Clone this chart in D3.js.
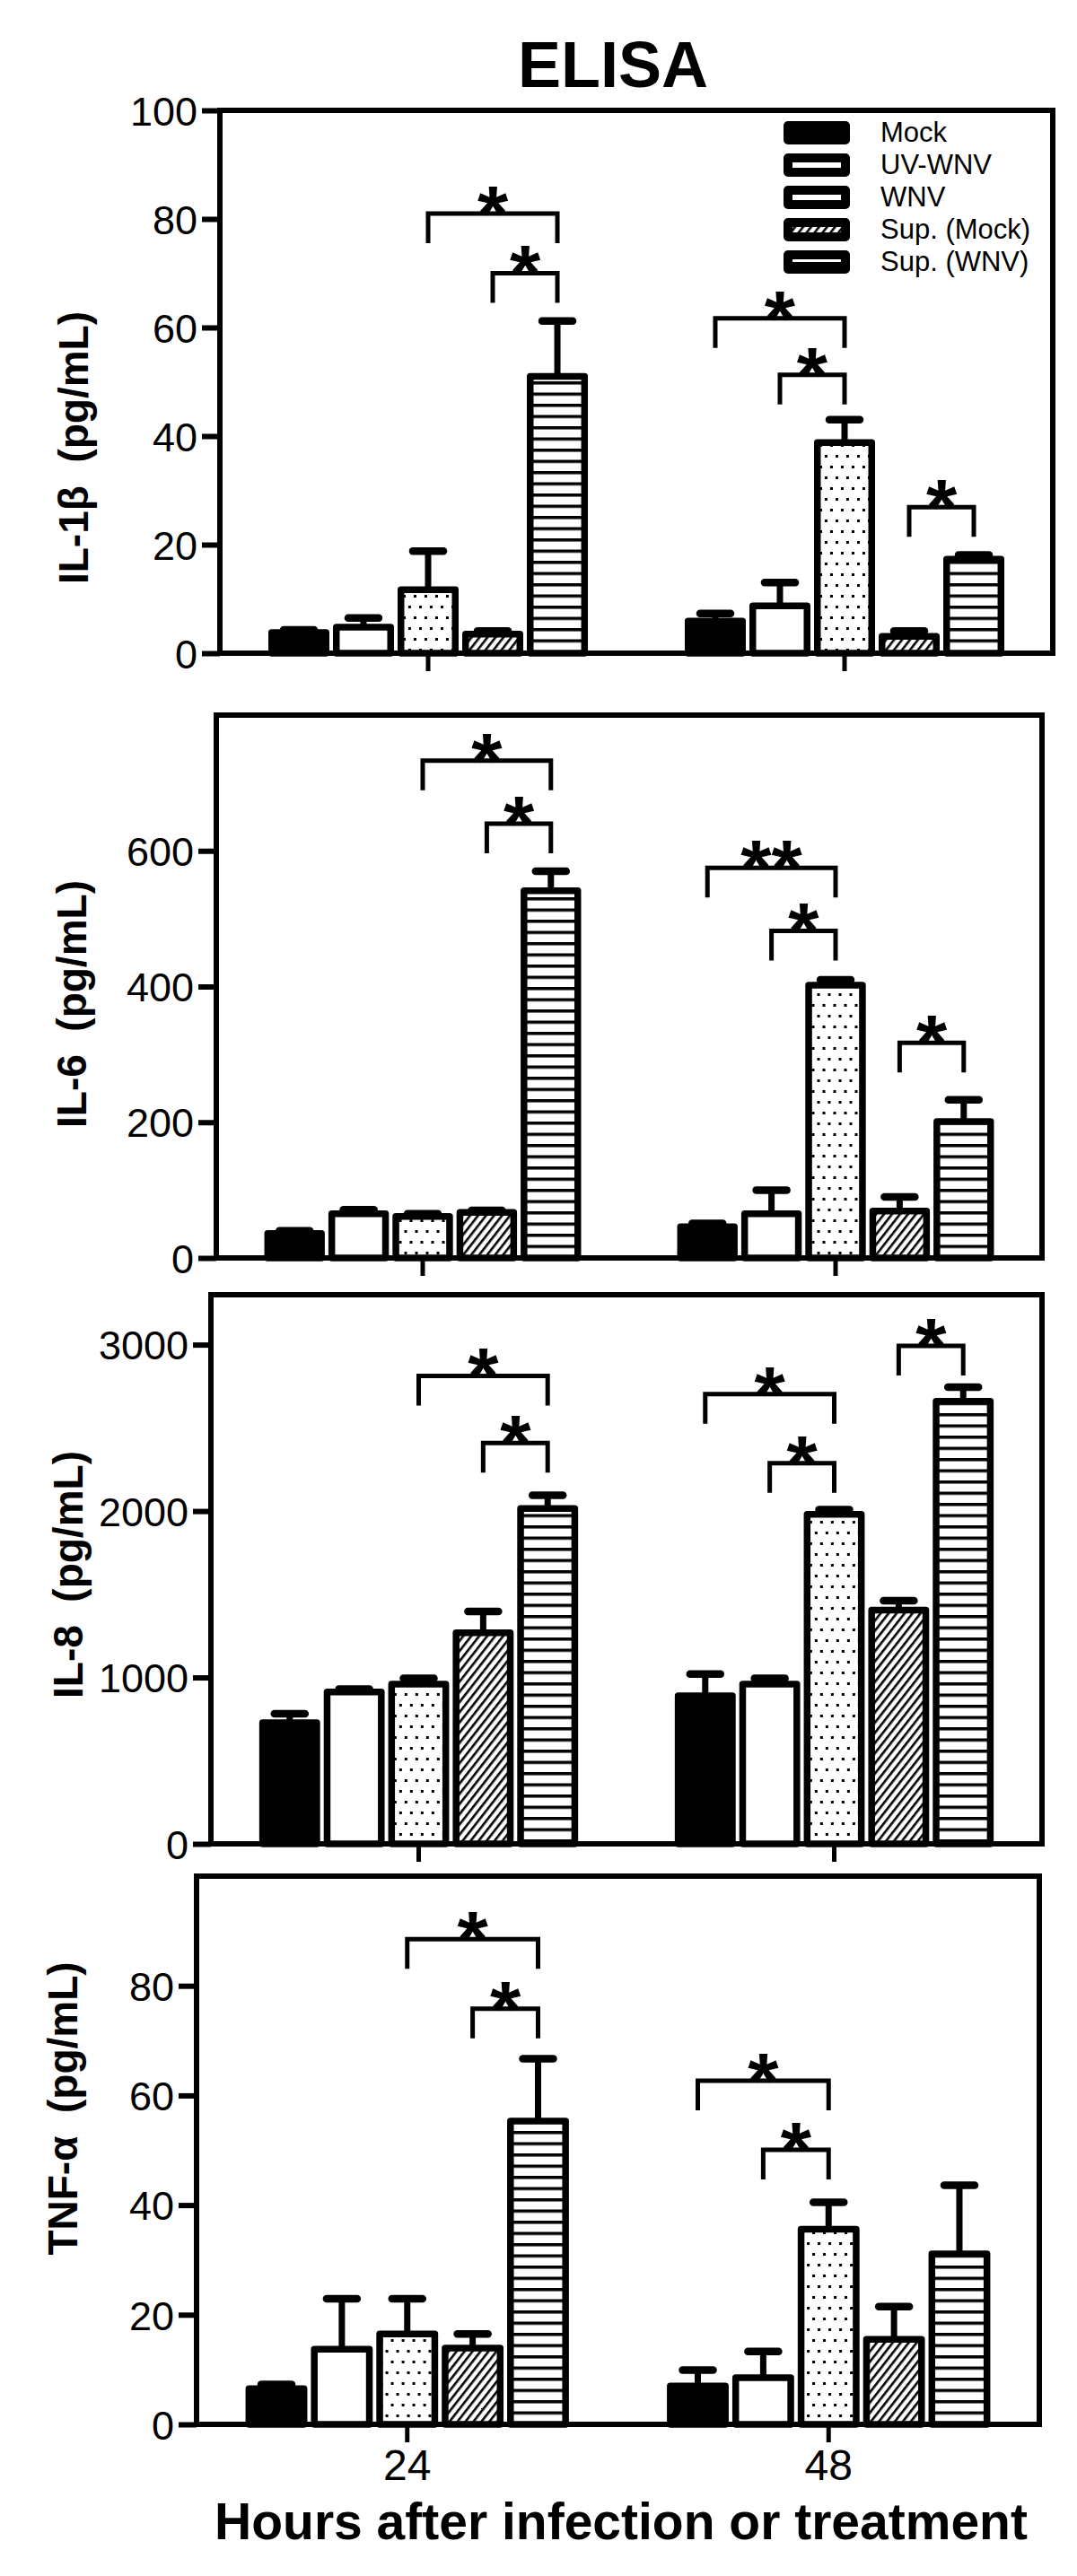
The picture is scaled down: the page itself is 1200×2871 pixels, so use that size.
<!DOCTYPE html>
<html>
<head>
<meta charset="utf-8">
<script src="https://cdn.jsdelivr.net/npm/d3@7"></script>
<style>
  body { margin: 0; background: #fff; }
  svg { display: block; }
</style>
</head>
<body>
<div id="chart"></div>
<script>
const width = 1200;
const height = 2871;

// ---- data ----
const groups = ['24', '48'];
const series = ['Mock', 'UV-WNV', 'WNV', 'Sup. (Mock)', 'Sup. (WNV)'];

// mean per group [24 h, 48 h], series order as above
const il1bMean = [[3.8, 4.8, 11.7, 3.5, 51.0], [5.9, 8.7, 38.8, 3.1, 17.3]];
const il1bErr  = [[0.5, 1.7, 7.1, 0.6, 10.2], [1.4, 4.3, 4.2, 1.0, 0.8]];
const il6Mean  = [[36, 65, 61, 67, 541], [46, 65, 402, 69, 201]];
const il6Err   = [[4, 6, 4, 3, 29], [5, 35, 8, 21, 32]];
const il8Mean  = [[728, 912, 960, 1268, 2015], [890, 960, 1980, 1405, 2660]];
const il8Err   = [[54, 18, 35, 129, 80], [131, 35, 28, 56, 84]];
const tnfMean  = [[6.5, 13.7, 16.5, 13.9, 55.3], [7.0, 8.5, 35.6, 15.5, 31.1]];
const tnfErr   = [[0.8, 9.2, 6.4, 2.6, 11.4], [2.9, 4.8, 4.9, 6.0, 12.5]];

// significance brackets: [group index, from series, to series, height (data units), label]
const il1bSig = [[0, 2, 4, 81, '*'], [0, 3, 4, 70, '*'], [1, 0, 2, 61.7, '*'], [1, 1, 2, 51.3, '*'], [1, 3, 4, 26.9, '*']];
const il6Sig  = [[0, 2, 4, 733, '*'], [0, 3, 4, 640, '*'], [1, 0, 2, 575, '**'], [1, 1, 2, 482, '*'], [1, 3, 4, 317, '*']];
const il8Sig  = [[0, 2, 4, 2812, '*'], [0, 3, 4, 2409, '*'], [1, 0, 2, 2703, '*'], [1, 1, 2, 2288, '*'], [1, 3, 4, 2992, '*']];
const tnfSig  = [[0, 2, 4, 88.5, '*'], [0, 3, 4, 75.8, '*'], [1, 0, 2, 62.7, '*'], [1, 1, 2, 50.1, '*']];

const il1bTicks = [0, 20, 40, 60, 80, 100];
const il6Ticks  = [0, 200, 400, 600];
const il8Ticks  = [0, 1000, 2000, 3000];
const tnfTicks  = [0, 20, 40, 60, 80];

// ---- layout ----
const arial = "'Liberation Sans',Arial,sans-serif";

const panels = [
  { label: 'IL-1\u03b2\u00a0\u00a0(pg/mL)', mean: il1bMean, err: il1bErr, sig: il1bSig, yMax: 100, ticks: il1bTicks,
    box: { left: 245, right: 1173, top: 123, bottom: 728 }, labelPos: [98, 499] },
  { label: 'IL-6\u00a0\u00a0(pg/mL)', mean: il6Mean, err: il6Err, sig: il6Sig, yMax: 800, ticks: il6Ticks,
    box: { left: 241, right: 1161, top: 797, bottom: 1402 }, labelPos: [96, 1119] },
  { label: 'IL-8\u00a0\u00a0(pg/mL)', mean: il8Mean, err: il8Err, sig: il8Sig, yMax: 3300, ticks: il8Ticks,
    box: { left: 235, right: 1161, top: 1443, bottom: 2055 }, labelPos: [92, 1755] },
  { label: 'TNF-\u03b1\u00a0\u00a0(pg/mL)', mean: tnfMean, err: tnfErr, sig: tnfSig, yMax: 100, ticks: tnfTicks,
    box: { left: 219, right: 1158, top: 2091, bottom: 2702 }, labelPos: [86, 2350] },
];

const barStroke = 7.5;
const fills = ['#000', '#fff', 'url(#dots)', 'url(#hatch)', 'url(#hlines)'];

const svg = d3.select('#chart')
  .append('svg')
  .attr('width', width)
  .attr('height', height)
  .attr('viewBox', `0 0 ${width} ${height}`);

svg.append('rect').attr('width', width).attr('height', height).attr('fill', '#fff');

// fill patterns
const defs = svg.append('defs');

const dots = defs.append('pattern').attr('id', 'dots')
  .attr('patternUnits', 'userSpaceOnUse').attr('width', 12).attr('height', 24);
dots.append('rect').attr('width', 12).attr('height', 24).attr('fill', '#fff');
dots.append('rect').attr('x', 2).attr('y', 3).attr('width', 3).attr('height', 3).attr('fill', '#000');
dots.append('rect').attr('x', 8).attr('y', 15).attr('width', 3).attr('height', 3).attr('fill', '#000');

const hatch = defs.append('pattern').attr('id', 'hatch')
  .attr('patternUnits', 'userSpaceOnUse').attr('width', 7).attr('height', 10)
  .attr('patternTransform', 'rotate(38)');
hatch.append('rect').attr('width', 7).attr('height', 10).attr('fill', '#fff');
hatch.append('rect').attr('width', 2.6).attr('height', 10).attr('fill', '#000');

const hlines = defs.append('pattern').attr('id', 'hlines')
  .attr('patternUnits', 'userSpaceOnUse').attr('width', 10).attr('height', 12.5);
hlines.append('rect').attr('width', 10).attr('height', 12.5).attr('fill', '#fff');
hlines.append('rect').attr('y', 0).attr('width', 10).attr('height', 3.5).attr('fill', '#000');

// title
svg.append('text')
  .attr('x', 683).attr('y', 97)
  .attr('text-anchor', 'middle')
  .style('font-family', arial).style('font-weight', 'bold').style('font-size', '72px')
  .text('ELISA');

function drawPanel(p, showX) {
  const { left, right, top, bottom } = p.box;

  const y = d3.scaleLinear().domain([0, p.yMax]).range([bottom, top]);
  const x0 = d3.scaleBand().domain(groups).range([left, right]).paddingInner(0.224).paddingOuter(0.112);
  const x1 = d3.scaleBand().domain(series).range([0, x0.bandwidth()]);

  const g = svg.append('g');

  groups.forEach((grp, gi) => {
    const rows = series.map((s, si) => ({ s, si, v: p.mean[gi][si], e: p.err[gi][si] }));
    const gg = g.append('g').attr('transform', `translate(${x0(grp)},0)`);
    const cx = d => x1(d.s) + x1.bandwidth() / 2;

    gg.selectAll('rect.bar').data(rows).join('rect')
      .attr('class', 'bar')
      .attr('x', d => x1(d.s) + 2 + barStroke / 2)
      .attr('width', x1.bandwidth() - 4 - barStroke)
      .attr('y', d => y(d.v))
      .attr('height', d => bottom - y(d.v))
      .attr('fill', d => fills[d.si])
      .attr('stroke', '#000')
      .attr('stroke-width', barStroke)
      .attr('stroke-linejoin', 'round');

    gg.selectAll('line.stem').data(rows).join('line')
      .attr('class', 'stem')
      .attr('x1', cx).attr('x2', cx)
      .attr('y1', d => y(d.v)).attr('y2', d => y(d.v + d.e))
      .attr('stroke', '#000').attr('stroke-width', 7);

    gg.selectAll('line.cap').data(rows).join('line')
      .attr('class', 'cap')
      .attr('x1', d => cx(d) - 17).attr('x2', d => cx(d) + 17)
      .attr('y1', d => y(d.v + d.e)).attr('y2', d => y(d.v + d.e))
      .attr('stroke', '#000').attr('stroke-width', 8.5).attr('stroke-linecap', 'round');
  });

  // significance brackets
  const leg = 33;
  const bx = (gi, si) => x0(groups[gi]) + x1(series[si]) + x1.bandwidth() / 2;
  g.selectAll('path.sig').data(p.sig).join('path')
    .attr('class', 'sig')
    .attr('d', d => {
      const ya = y(d[3]);
      return `M${bx(d[0], d[1])},${ya + leg}V${ya}H${bx(d[0], d[2])}V${ya + leg}`;
    })
    .attr('fill', 'none').attr('stroke', '#000').attr('stroke-width', 5);

  const starSize = 88;
  g.selectAll('text.star').data(p.sig).join('text')
    .attr('class', 'star')
    .attr('x', d => (bx(d[0], d[1]) + bx(d[0], d[2])) / 2)
    .attr('y', d => y(d[3]) - 7 + 0.42 * starSize)
    .attr('text-anchor', 'middle')
    .style('font-family', arial).style('font-weight', 'bold').style('font-size', starSize + 'px')
    .text(d => d[4]);

  // frame
  g.append('rect')
    .attr('x', left).attr('y', top)
    .attr('width', right - left).attr('height', bottom - top)
    .attr('fill', 'none').attr('stroke', '#000').attr('stroke-width', 6);

  // y axis
  const yAxis = g.append('g')
    .attr('transform', `translate(${left},0)`)
    .call(d3.axisLeft(y).tickValues(p.ticks).tickSize(20).tickSizeOuter(0).tickPadding(5)
      .tickFormat(d3.format('d')));
  yAxis.select('.domain').remove();
  yAxis.selectAll('.tick line').attr('stroke', '#000').attr('stroke-width', 6);
  yAxis.selectAll('.tick text')
    .attr('fill', '#000')
    .attr('dy', '0.36em')
    .style('font-family', arial).style('font-size', '45px');

  // x axis
  const xAxis = g.append('g')
    .attr('transform', `translate(0,${bottom})`)
    .call(d3.axisBottom(x0).tickSize(20).tickSizeOuter(0).tickPadding(8)
      .tickFormat(d => showX ? d : ''));
  xAxis.select('.domain').remove();
  xAxis.selectAll('.tick line').attr('stroke', '#000').attr('stroke-width', 5);
  xAxis.selectAll('.tick text')
    .attr('fill', '#000')
    .style('font-family', arial).style('font-size', '48px');

  // y label
  g.append('text')
    .attr('transform', `translate(${p.labelPos[0]},${p.labelPos[1]}) rotate(-90)`)
    .attr('text-anchor', 'middle')
    .style('font-family', arial).style('font-weight', 'bold').style('font-size', '46px')
    .text(p.label);
}

panels.forEach((p, i) => drawPanel(p, i === panels.length - 1));

// x title
svg.append('text')
  .attr('x', 692).attr('y', 2830)
  .attr('text-anchor', 'middle')
  .style('font-family', arial).style('font-weight', 'bold').style('font-size', '57px')
  .text('Hours after infection or treatment');

// legend (inside first panel)
const legend = svg.append('g').attr('transform', 'translate(873,148)');
const rowsL = legend.selectAll('g').data(series).join('g')
  .attr('transform', (d, i) => `translate(0,${i * 36})`);
rowsL.append('rect')
  .attr('x', 5).attr('y', -8)
  .attr('width', 64).attr('height', 16)
  .attr('fill', (d, i) => fills[i])
  .attr('stroke', '#000').attr('stroke-width', 10).attr('stroke-linejoin', 'round');
rowsL.append('text')
  .attr('x', 108).attr('y', 10)
  .style('font-family', arial).style('font-size', '31px')
  .text(d => d);
</script>
</body>
</html>
